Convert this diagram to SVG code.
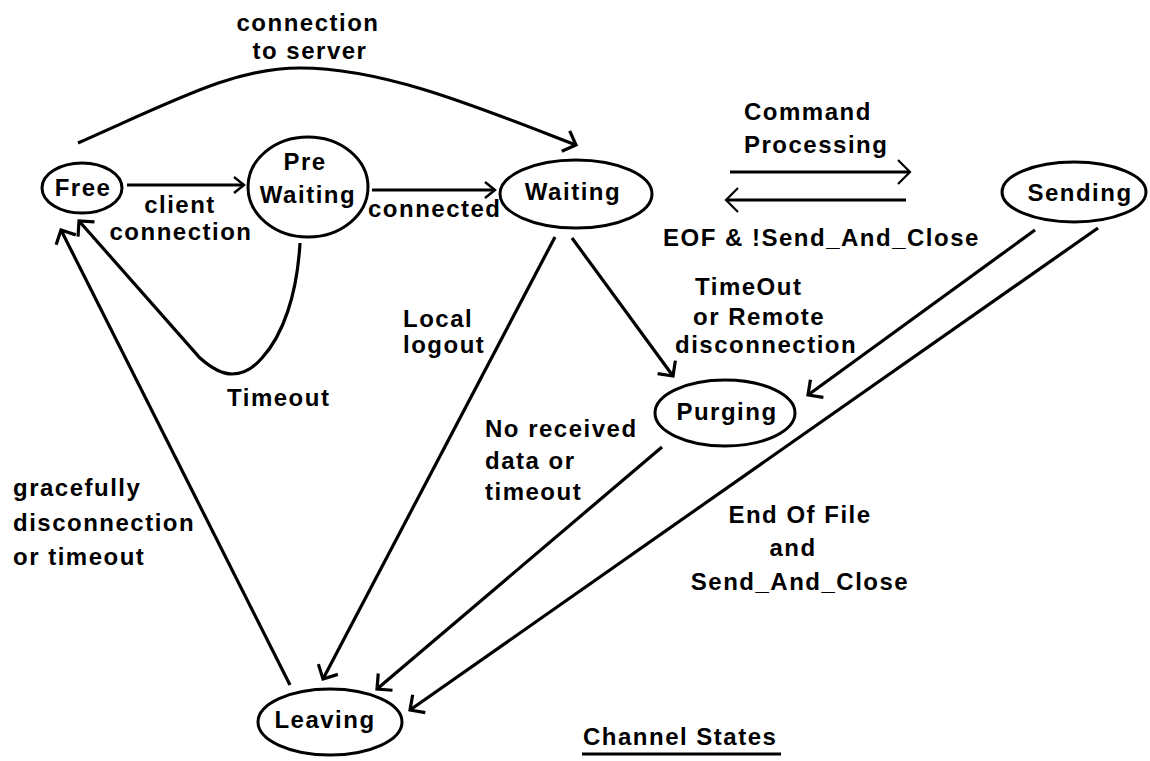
<svg xmlns="http://www.w3.org/2000/svg" width="1150" height="761" viewBox="0 0 1150 761">
  <style>
    .bg { fill: #ffffff; }
    .node { fill: none; stroke: #000; stroke-width: 3; }
    .edge { fill: none; stroke: #000; stroke-width: 3.2; }
    text { font-family: "Liberation Sans", Arial, sans-serif; font-weight: bold; font-size: 24px; letter-spacing: 1.5px; fill: #000; }
    .c { text-anchor: middle; }
  </style>
  <defs>
    <marker id="ah" markerUnits="userSpaceOnUse" markerWidth="20" markerHeight="20" refX="0" refY="0" orient="auto" overflow="visible">
      <path d="M-11,-11 L0,0 L-11,11" fill="none" stroke="#000" stroke-width="3.2" stroke-linejoin="miter"/>
    </marker>
    <marker id="ahm" markerUnits="userSpaceOnUse" markerWidth="20" markerHeight="20" refX="0" refY="0" orient="auto" overflow="visible">
      <path d="M-12,-12 L0,0 L-12,12" fill="none" stroke="#000" stroke-width="2.2"/>
    </marker>
    <marker id="ahs" markerUnits="userSpaceOnUse" markerWidth="20" markerHeight="20" refX="0" refY="0" orient="auto" overflow="visible">
      <path d="M-10,-8 L0,0 L-10,8" fill="none" stroke="#000" stroke-width="2.4"/>
    </marker>
  </defs>
  <rect class="bg" x="0" y="0" width="1150" height="761"/>

  <g id="connectors">
    <path id="e-free-waiting" class="edge" d="M78,143 C180,98 235,68 300,68 C385,68 480,108 576,145" marker-end="url(#ah)"/>
    <line id="e-free-prewaiting" class="edge" x1="127" y1="185" x2="244" y2="185" marker-end="url(#ahs)"/>
    <line id="e-prewaiting-waiting" class="edge" x1="372" y1="190" x2="495" y2="190" marker-end="url(#ahs)"/>
    <path id="e-prewaiting-free" class="edge" d="M300,243 C297,295 283,335 262,358 Q248,374 232,374 Q218,374 200,358 L79,221" marker-end="url(#ah)"/>
    <line id="e-waiting-sending" class="edge" x1="730" y1="172" x2="910" y2="172" marker-end="url(#ahm)"/>
    <line id="e-sending-waiting" class="edge" x1="906" y1="200" x2="726" y2="200" marker-end="url(#ahm)"/>
    <line id="e-waiting-leaving" class="edge" x1="555" y1="237" x2="323" y2="679" marker-end="url(#ah)"/>
    <line id="e-waiting-purging" class="edge" x1="572" y1="238" x2="673" y2="376" marker-end="url(#ah)"/>
    <line id="e-sending-purging" class="edge" x1="1035" y1="230" x2="808" y2="395" marker-end="url(#ah)"/>
    <line id="e-sending-leaving" class="edge" x1="1098" y1="228" x2="410" y2="710" marker-end="url(#ah)"/>
    <line id="e-purging-leaving" class="edge" x1="662" y1="447" x2="377" y2="689" marker-end="url(#ah)"/>
    <line id="e-leaving-free" class="edge" x1="290" y1="685" x2="61" y2="230" marker-end="url(#ah)"/>
  </g>

  <g id="node-free">
    <ellipse class="node" cx="82" cy="188" rx="40" ry="25"/>
    <text class="c" x="83" y="196">Free</text>
  </g>
  <g id="node-prewaiting">
    <ellipse class="node" cx="308" cy="187" rx="60" ry="50"/>
    <text class="c" x="305" y="170">Pre</text>
    <text class="c" x="308" y="203">Waiting</text>
  </g>
  <g id="node-waiting">
    <ellipse class="node" cx="576" cy="194" rx="76" ry="34"/>
    <text class="c" x="573" y="200">Waiting</text>
  </g>
  <g id="node-sending">
    <ellipse class="node" cx="1074" cy="192" rx="72" ry="30"/>
    <text class="c" x="1080" y="201">Sending</text>
  </g>
  <g id="node-purging">
    <ellipse class="node" cx="725" cy="413" rx="70" ry="33"/>
    <text class="c" x="727" y="420">Purging</text>
  </g>
  <g id="node-leaving">
    <ellipse class="node" cx="330" cy="722" rx="72" ry="33"/>
    <text class="c" x="325" y="728">Leaving</text>
  </g>

  <g id="labels">
    <text class="c" x="308" y="31">connection</text>
    <text class="c" x="310" y="59">to server</text>
    <text class="c" x="180" y="213">client</text>
    <text class="c" x="181" y="240">connection</text>
    <text x="368" y="217">connected</text>
    <text x="744" y="120">Command</text>
    <text x="744" y="153">Processing</text>
    <text x="663" y="246">EOF &amp; !Send_And_Close</text>
    <text x="695" y="295">TimeOut</text>
    <text x="693" y="325">or Remote</text>
    <text x="675" y="353">disconnection</text>
    <text x="403" y="327">Local</text>
    <text x="403" y="353">logout</text>
    <text x="227" y="406">Timeout</text>
    <text x="485" y="437">No received</text>
    <text x="485" y="469">data or</text>
    <text x="485" y="500">timeout</text>
    <text x="13" y="496">gracefully</text>
    <text x="13" y="531">disconnection</text>
    <text x="13" y="565">or timeout</text>
    <text class="c" x="800" y="523">End Of File</text>
    <text class="c" x="793" y="556">and</text>
    <text class="c" x="800" y="590">Send_And_Close</text>
  </g>

  <g id="title">
    <text x="583" y="745">Channel States</text>
    <line x1="582" y1="754" x2="781" y2="754" stroke="#000" stroke-width="3"/>
  </g>
</svg>
